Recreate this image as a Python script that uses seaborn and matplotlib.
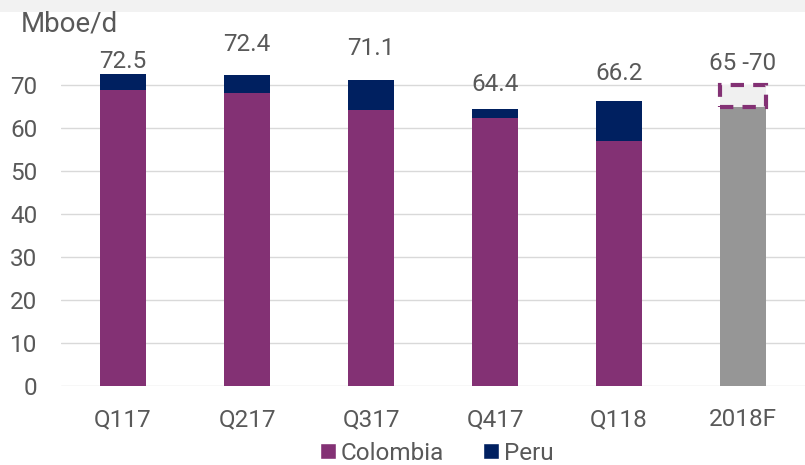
import numpy as np
import pandas as pd
import matplotlib
matplotlib.use('Agg')
import matplotlib.pyplot as plt
from matplotlib.patches import Rectangle, Patch
import seaborn as sns

# data
quarters = ['Q117', 'Q217', 'Q317', 'Q417', 'Q118', '2018F']
colombia = [68.8, 68.1, 64.2, 62.3, 57.0, 65.0]
peru = [3.7, 4.3, 6.9, 2.1, 9.2, 0.0]
value_labels = ['72.5', '72.4', '71.1', '64.4', '66.2', '65 -70']
forecast_low = 65
forecast_high = 70

PURPLE = '#833174'
NAVY = '#002060'
GREY = '#969696'
TEXT = '#595959'
GRID = '#d9d9d9'

sns.set_theme(style='white')
plt.rcParams['font.family'] = ['Roboto', 'DejaVu Sans']

df = pd.DataFrame({'quarter': quarters, 'Colombia': colombia, 'Peru': peru})
df['total'] = df['Colombia'] + df['Peru']

fig = plt.figure(figsize=(8.05, 4.65), dpi=100)
fig.patches.append(Rectangle((0, 1 - 12 / 465), 1, 12 / 465, transform=fig.transFigure,
                             facecolor='#f2f2f2', edgecolor='none', zorder=0))
ax = fig.add_axes([61 / 805, 1 - 386 / 465, 1 - 61 / 805, 344 / 465])

bw = 0.37
sns.barplot(data=df, x='quarter', y='total', color=NAVY, width=bw, saturation=1,
            linewidth=0, ax=ax, zorder=2)
bar_cols = [PURPLE] * (len(quarters) - 1) + [GREY]
sns.barplot(data=df, x='quarter', y='Colombia', hue='quarter', palette=bar_cols, legend=False,
            width=bw, saturation=1, linewidth=0, ax=ax, zorder=3)

# forecast range box
fi = quarters.index('2018F')
ax.bar(fi, forecast_high - forecast_low, bottom=forecast_low, width=bw * 1.02,
       facecolor='#f0f0f0', edgecolor=PURPLE, linewidth=3, linestyle=(0, (3.2, 2.2)), zorder=4)

# value labels (offsets in pixels above bar top, as placed in the original)
label_offsets = [13, 30, 32, 25, 28, 22]
tops = list(df['total'])
tops[fi] = forecast_high
for i, (lab, top, off) in enumerate(zip(value_labels, tops, label_offsets)):
    ax.annotate(lab, (i, top), xytext=(0, off * 0.72), textcoords='offset points',
                ha='center', va='center', fontsize=17.5, color=TEXT)

ax.set_ylim(0, 80)
ax.set_xlim(-0.5, len(quarters) - 0.5)
ax.set_yticks(np.arange(0, 71, 10))
ax.yaxis.grid(True, color=GRID, linewidth=1)
ax.set_axisbelow(True)
for s in ax.spines.values():
    s.set_visible(False)
ax.tick_params(axis='both', length=0, labelsize=17.5, colors=TEXT)
ax.tick_params(axis='x', pad=16)
ax.tick_params(axis='y', pad=17)
ax.set_xlabel('')
ax.set_ylabel('')

fig.text(21 / 805, 1 - 24 / 465, 'Mboe/d', fontsize=20, color=TEXT, ha='left', va='center')

handles = [Patch(facecolor=PURPLE, label='Colombia'), Patch(facecolor=NAVY, label='Peru')]
fig.legend(handles=handles, loc='center', bbox_to_anchor=(437 / 805, 12 / 465), ncol=2,
           frameon=False, fontsize=17.5, labelcolor=TEXT, handlelength=0.65, handleheight=0.65,
           handletextpad=0.2, columnspacing=1.6)

fig.savefig('out.png', dpi=100, facecolor='white')
